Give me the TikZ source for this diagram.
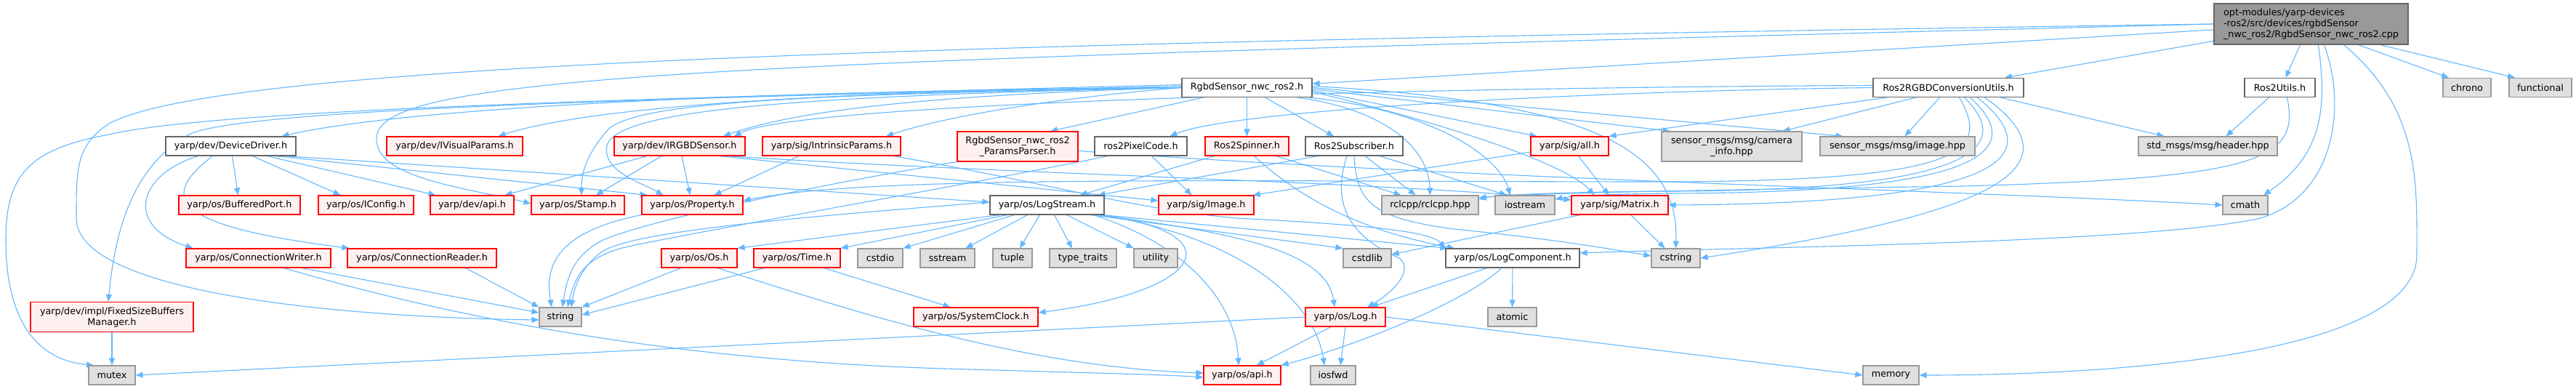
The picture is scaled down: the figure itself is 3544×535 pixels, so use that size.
\documentclass[tikz,border=0pt]{standalone}
\usepackage{fontspec}
\newfontfamily\dv{DejaVu Sans}
\usetikzlibrary{arrows.meta,backgrounds}
\definecolor{edgec}{HTML}{63B8FF}
\definecolor{redb}{HTML}{FF0000}
\definecolor{redf}{HTML}{FFF0F0}
\definecolor{grayb}{HTML}{999999}
\definecolor{grayf}{HTML}{E0E0E0}
\definecolor{whiteb}{HTML}{666666}
\definecolor{topf}{HTML}{999999}
\tikzset{
  e/.style={draw=edgec, line width=1.1pt, -{Triangle[length=10pt,width=8pt]}},
  nd/.style={draw, line width=1.2pt, font=\dv\fontsize{12.8pt}{15pt}\selectfont, inner sep=0pt, minimum height=26pt, anchor=center, align=center},
  rn/.style={nd, draw=redb, fill=redf},
  gn/.style={nd, draw=grayb, fill=grayf},
  wn/.style={nd, draw=whiteb, fill=white},
  topn/.style={nd, draw=whiteb, fill=topf, align=left},
}
\begin{document}
\begin{tikzpicture}[x=1pt,y=-1pt]
\useasboundingbox (0,0) rectangle (3544,535);
% row 0
\node[topn, minimum width=267pt, minimum height=56pt] (T) at (3179.5,33) {opt-modules/yarp-devices\\-ros2/src/devices/rgbdSensor\\\_nwc\_ros2/RgbdSensor\_nwc\_ros2.cpp};
% row 1
\node[wn, minimum width=179pt] (R) at (1715.5,120.5) {RgbdSensor\_nwc\_ros2.h};
\node[wn, minimum width=207pt] (C) at (2680.5,120.5) {Ros2RGBDConversionUtils.h};
\node[wn, minimum width=97pt] (U) at (3136.5,120.5) {Ros2Utils.h};
\node[gn, minimum width=66pt] (chrono) at (3394,120.5) {chrono};
\node[gn, minimum width=86pt] (functional) at (3495,120.5) {functional};
% row 2
\node[wn, minimum width=179pt] (dd) at (317.5,201) {yarp/dev/DeviceDriver.h};
\node[rn, minimum width=187pt] (ivp) at (625.5,201) {yarp/dev/IVisualParams.h};
\node[rn, minimum width=180pt] (irgbd) at (935,201) {yarp/dev/IRGBDSensor.h};
\node[rn, minimum width=190pt] (intr) at (1144,201) {yarp/sig/IntrinsicParams.h};
\node[rn, minimum width=166pt, minimum height=41pt] (pp) at (1400,201.5) {RgbdSensor\_nwc\_ros2\\\_ParamsParser.h};
\node[wn, minimum width=127pt] (pix) at (1569.5,201) {ros2PixelCode.h};
\node[rn, minimum width=115pt] (spin) at (1715.5,201) {Ros2Spinner.h};
\node[wn, minimum width=134pt] (sub) at (1863,201) {Ros2Subscriber.h};
\node[rn, minimum width=107pt] (all) at (2159.5,201) {yarp/sig/all.h};
\node[gn, minimum width=193pt, minimum height=41pt] (cam) at (2382.5,201.5) {sensor\_msgs/msg/camera\\\_info.hpp};
\node[gn, minimum width=213pt] (img) at (2610.5,201) {sensor\_msgs/msg/image.hpp};
\node[gn, minimum width=191pt] (hdr) at (3037.5,201) {std\_msgs/msg/header.hpp};
% row 3
\node[rn, minimum width=167pt] (bp) at (329.5,282) {yarp/os/BufferedPort.h};
\node[rn, minimum width=131pt] (icfg) at (503.5,282) {yarp/os/IConfig.h};
\node[rn, minimum width=115pt] (dapi) at (649.5,282) {yarp/dev/api.h};
\node[rn, minimum width=128pt] (stamp) at (795,282) {yarp/os/Stamp.h};
\node[rn, minimum width=139pt] (prop) at (952.5,282) {yarp/os/Property.h};
\node[wn, minimum width=157pt] (ls) at (1440.5,282) {yarp/os/LogStream.h};
\node[rn, minimum width=131pt] (simg) at (1659.5,282) {yarp/sig/Image.h};
\node[gn, minimum width=133pt] (rcl) at (1967.5,282) {rclcpp/rclcpp.hpp};
\node[gn, minimum width=82pt] (ios) at (2098,282) {iostream};
\node[rn, minimum width=133pt] (mat) at (2228.5,282) {yarp/sig/Matrix.h};
\node[gn, minimum width=62pt] (cmath) at (3089,282) {cmath};
% row 4
\node[rn, minimum width=199pt] (cw) at (355.5,355) {yarp/os/ConnectionWriter.h};
\node[rn, minimum width=205pt] (cr) at (580.5,355) {yarp/os/ConnectionReader.h};
\node[rn, minimum width=104pt] (os) at (962,355) {yarp/os/Os.h};
\node[rn, minimum width=119pt] (time) at (1096.5,355) {yarp/os/Time.h};
\node[gn, minimum width=62pt] (cstdio) at (1211,355) {cstdio};
\node[gn, minimum width=75pt] (sstream) at (1303.5,355) {sstream};
\node[gn, minimum width=54pt] (tuple) at (1393,355) {tuple};
\node[gn, minimum width=92pt] (tt) at (1490,355) {type\_traits};
\node[gn, minimum width=60pt] (util) at (1590,355) {utility};
\node[gn, minimum width=66pt] (cstdlib) at (1881,355) {cstdlib};
\node[wn, minimum width=184pt] (lc) at (2081,355) {yarp/os/LogComponent.h};
\node[gn, minimum width=67pt] (cstr) at (2305.5,355) {cstring};
% row 5
\node[rn, minimum width=224pt, minimum height=41pt] (fsb) at (154,436) {yarp/dev/impl/FixedSizeBuffers\\Manager.h};
\node[gn, minimum width=58pt] (str) at (771,436) {string};
\node[rn, minimum width=171pt] (sc) at (1342.5,436) {yarp/os/SystemClock.h};
\node[rn, minimum width=110pt] (log) at (1851,436) {yarp/os/Log.h};
\node[gn, minimum width=67pt] (atomic) at (2080.5,436) {atomic};
% row 6
\node[gn, minimum width=64pt] (mutex) at (154,516) {mutex};
\node[rn, minimum width=106pt] (oapi) at (1709,516) {yarp/os/api.h};
\node[gn, minimum width=62pt] (iosfwd) at (1834,516) {iosfwd};
\node[gn, minimum width=77pt] (memory) at (2601.5,516) {memory};

\begin{scope}[on background layer]
\fill[white] (0,0) rectangle (3544,535);
% top node
\draw[e] (T.west) .. controls (1200,60) and (300,90) .. (150,170) .. controls (105,200) and (105,230) .. (105,300) .. controls (105,400) and (450,436) .. ([yshift=-4pt]str.west);
\draw[e] (T.west) .. controls (1000,85) and (520,100) .. (518,190) .. controls (516,245) and (640,258) .. ([yshift=2pt]stamp.west);
\draw[e] (T) -- (R);
\draw[e] (T) -- (C);
\draw[e] ([xshift=-15pt]T.south) -- ([xshift=8pt]U.north);
\draw[e] ([xshift=65pt]T.south) -- ([xshift=-25pt]chrono.north);
\draw[e] ([xshift=95pt]T.south) -- ([xshift=-35pt]functional.north);
\draw[e] ([xshift=10pt]T.south) .. controls (3200,140) and (3200,210) .. ([xshift=25pt]cmath.north);
\draw[e] ([xshift=18pt]T.south) .. controls (3230,150) and (3210,270) .. (3110,300) .. controls (2950,335) and (2400,340) .. ([yshift=7pt]lc.east);
\draw[e] ([xshift=45pt]T.south) .. controls (3330,150) and (3325,250) .. (3325,350) .. controls (3325,490) and (2900,516) .. (memory.east);
% RgbdSensor_nwc_ros2.h
\draw[e] (R.west) .. controls (1000,125) and (550,150) .. ([xshift=70pt]dd.north);
\draw[e] (R.west) .. controls (1100,125) and (800,150) .. ([xshift=60pt]ivp.north);
\draw[e] (R.west) .. controls (1300,130) and (1100,150) .. ([xshift=60pt]irgbd.north);
\draw[e] (R.west) .. controls (1450,135) and (1300,160) .. ([xshift=75pt]intr.north);
\draw[e] ([xshift=-60pt]R.south) -- ([xshift=45pt]pp.north);
\draw[e] (R) -- (spin);
\draw[e] ([xshift=25pt]R.south) -- ([xshift=-28pt]sub.north);
\draw[e] ([yshift=-4pt]R.east) -- ([xshift=-45pt]all.north);
\draw[e] ([yshift=-2pt]R.east) -- ([xshift=-85pt]cam.north);
\draw[e] (R.east) -- ([xshift=-75pt]img.north);
\draw[e] ([xshift=70pt]R.south) .. controls (1900,150) and (1965,200) .. (rcl.north);
\draw[e] ([xshift=85pt]R.south) .. controls (1960,150) and (2060,210) .. ([xshift=-20pt]ios.north);
\draw[e] ([yshift=-6pt]R.east) .. controls (1950,160) and (2150,220) .. ([xshift=-35pt]mat.north);
\draw[e] ([yshift=2pt]R.east) .. controls (2200,140) and (2310,210) .. (cstr.north);
\draw[e] ([yshift=4pt]R.west) .. controls (900,135) and (300,150) .. (150,185) .. controls (40,205) and (8,240) .. (8,330) .. controls (8,440) and (50,495) .. ([xshift=-25pt]mutex.north);
\draw[e] ([yshift=2pt]R.west) .. controls (900,135) and (330,150) .. (260,185) .. controls (190,225) and (160,300) .. ([xshift=-5pt]fsb.north);
\draw[e] (R.west) .. controls (1100,130) and (870,140) .. (835,180) .. controls (805,215) and (800,240) .. ([xshift=5pt]stamp.north);
\draw[e] (R.west) .. controls (1100,132) and (850,150) .. (835,200) .. controls (828,235) and (880,250) .. ([xshift=-40pt]prop.north);
% Ros2RGBDConversionUtils.h
\draw[e] (C.west) .. controls (2200,125) and (1700,150) .. ([xshift=40pt]pix.north);
\draw[e] ([yshift=3pt]C.west) .. controls (2000,120) and (1100,140) .. ([xshift=75pt]irgbd.north);
\draw[e] ([xshift=-85pt]C.south) -- (all.north east);
\draw[e] ([xshift=-45pt]C.south) -- ([xshift=70pt]cam.north);
\draw[e] ([xshift=-12pt]C.south) -- ([xshift=10pt]img.north);
\draw[e] ([xshift=72pt]C.south) -- ([xshift=-60pt]hdr.north);
\draw[e] ([xshift=15pt]C.south) .. controls (2740,210) and (2700,248) .. (2300,250) .. controls (1700,250) and (1200,240) .. ([yshift=6pt]prop.east);
\draw[e] ([xshift=22pt]C.south) .. controls (2790,220) and (2650,262) .. (2300,263) .. controls (2150,264) and (2060,268) .. ([yshift=8pt]rcl.east);
\draw[e] ([xshift=30pt]C.south) .. controls (2810,225) and (2660,265) .. (2300,266) .. controls (2200,267) and (2160,270) .. ([yshift=8pt]ios.east);
\draw[e] ([xshift=40pt]C.south) .. controls (2840,230) and (2700,280) .. (mat.east);
\draw[e] ([xshift=50pt]C.south) .. controls (2880,240) and (2700,300) .. (cstr.east);
% Ros2Utils.h
\draw[e] ([xshift=-15pt]U.south) -- ([xshift=25pt]hdr.north);
\draw[e] ([xshift=10pt]U.south) .. controls (3165,220) and (3110,245) .. (2700,256) .. controls (2300,262) and (2100,266) .. ([yshift=10pt]rcl.east);
% DeviceDriver.h
\draw[e] (dd) -- (bp);
\draw[e] ([xshift=30pt]dd.south) -- ([xshift=-35pt]icfg.north);
\draw[e] ([xshift=50pt]dd.south) -- ([xshift=-50pt]dapi.north);
\draw[e] ([xshift=62pt]dd.south) -- ([xshift=-62pt]prop.north);
\draw[e] ([xshift=75pt]dd.south) -- ([yshift=4pt]ls.west);
\draw[e] ([xshift=-45pt]dd.south) .. controls (190,240) and (170,310) .. ([xshift=-90pt]cw.north);
\draw[e] ([xshift=-25pt]dd.south) .. controls (220,270) and (230,310) .. ([xshift=-100pt]cr.north);
% IRGBDSensor.h
\draw[e] ([xshift=-45pt]irgbd.south) -- ([xshift=45pt]dapi.north);
\draw[e] ([xshift=-25pt]irgbd.south) -- ([xshift=25pt]stamp.north);
\draw[e] (irgbd) -- (prop);
\draw[e] ([xshift=55pt]irgbd.south) -- ([yshift=6pt]simg.west);
\draw[e] ([xshift=65pt]irgbd.south) .. controls (1400,240) and (1900,250) .. ([yshift=7pt]mat.west);
% IntrinsicParams.h
\draw[e] ([xshift=-45pt]intr.south) -- ([xshift=30pt]prop.north);
\draw[e] ([xshift=85pt]intr.south) .. controls (1460,255) and (1545,285) .. (1700,300) .. controls (1900,310) and (1970,320) .. (lc.north west);
% ParamsParser
\draw[e] (pp.south west) .. controls (1150,250) and (900,300) .. (830,330) .. controls (790,350) and (780,380) .. ([xshift=3pt]str.north);
\draw[e] ([yshift=-6pt]pp.east) .. controls (2000,245) and (2700,262) .. (cmath.west);
% ros2PixelCode.h
\draw[e] ([xshift=15pt]pix.south) -- ([xshift=-20pt]simg.north);
\draw[e] ([xshift=-45pt]pix.south) .. controls (1300,260) and (950,320) .. (860,340) .. controls (800,355) and (790,385) .. ([xshift=10pt]str.north);
% Ros2Spinner.h
\draw[e] ([xshift=-45pt]spin.south) -- ([xshift=45pt]ls.north);
\draw[e] ([xshift=10pt]spin.south) .. controls (1780,265) and (1860,315) .. ([xshift=-80pt]lc.north);
\draw[e] ([xshift=40pt]spin.south) -- ([xshift=-40pt]rcl.north);
% Ros2Subscriber.h
\draw[e] ([xshift=-50pt]sub.south) -- ([xshift=70pt]ls.north);
\draw[e] ([xshift=-10pt]sub.south) .. controls (1835,270) and (1845,320) .. (1925,355) .. controls (1945,370) and (1920,400) .. ([xshift=30pt]log.north);
\draw[e] (sub.south) .. controls (1866,280) and (1890,300) .. (2000,315) .. controls (2150,330) and (2230,345) .. ([yshift=3pt]cstr.west);
\draw[e] ([xshift=15pt]sub.south) -- ([xshift=-20pt]rcl.north);
\draw[e] ([xshift=35pt]sub.south) -- ([xshift=-25pt]ios.north);
% yarp/sig/all.h
\draw[e] ([yshift=-8pt]all.west) -- ([xshift=-2pt]simg.north east);
\draw[e] ([xshift=12pt]all.south) -- ([xshift=-15pt]mat.north);
% Matrix.h
\draw[e] ([xshift=-55pt]mat.south) -- ([yshift=5pt]cstdlib.east);
\draw[e] ([xshift=15pt]mat.south) -- ([xshift=-15pt]cstr.north);
% LogStream.h
\draw[e] ([xshift=-65pt]ls.south) -- (os.north east);
\draw[e] ([xshift=-55pt]ls.south) -- (time.north east);
\draw[e] ([xshift=-45pt]ls.south) -- (cstdio.north east);
\draw[e] ([xshift=-27pt]ls.south) -- ([xshift=25pt]sstream.north);
\draw[e] ([xshift=-10pt]ls.south) -- ([xshift=10pt]tuple.north);
\draw[e] ([xshift=10pt]ls.south) -- ([xshift=-15pt]tt.north);
\draw[e] ([xshift=27pt]ls.south) -- (util.north west);
\draw[e] ([yshift=4pt]ls.west) .. controls (1150,295) and (880,315) .. (830,345) .. controls (800,365) and (790,395) .. ([xshift=15pt]str.north);
\draw[e] ([xshift=72pt]ls.south) .. controls (1700,320) and (1660,400) .. ([yshift=6pt]sc.east);
\draw[e] ([xshift=60pt]ls.south) -- (cstdlib.north west);
\draw[e] ([xshift=-3pt]ls.south east) -- ([xshift=3pt]lc.north west);
\draw[e] ([xshift=70pt]ls.south) .. controls (1700,320) and (1825,345) .. ([xshift=-15pt]log.north);
\draw[e] ([xshift=64pt]ls.south) .. controls (1640,340) and (1700,420) .. ([xshift=-5pt]oapi.north);
\draw[e] ([xshift=76pt]ls.south) .. controls (1720,330) and (1810,420) .. ([xshift=-12pt]iosfwd.north);
% Os.h, Time.h
\draw[e] ([xshift=-25pt]os.south) -- (str.north east);
\draw[e] ([xshift=25pt]os.south) .. controls (1150,420) and (1400,505) .. ([yshift=3pt]oapi.west);
\draw[e] ([xshift=-45pt]time.south) -- ([yshift=3pt]str.east);
\draw[e] ([xshift=37pt]time.south) -- ([xshift=-35pt]sc.north);
% Connection*
\draw[e] ([xshift=60pt]cw.south) -- ([yshift=6pt]str.west);
\draw[e] ([xshift=35pt]cw.south) .. controls (600,430) and (900,495) .. (1300,507) .. controls (1500,513) and (1600,515) .. ([yshift=-3pt]oapi.west);
\draw[e] ([xshift=60pt]cr.south) -- (str.north west);
% Property.h
\draw[e] (prop.south west) .. controls (760,320) and (750,370) .. ([xshift=-12pt]str.north);
% LogComponent.h
\draw[e] ([xshift=-35pt]lc.south) -- ([xshift=35pt]log.north);
\draw[e] ([xshift=-15pt]lc.south) .. controls (2010,420) and (1850,480) .. (oapi.north east);
\draw[e] (lc) -- (atomic);
% Log.h
\draw[e] ([xshift=-20pt]log.south) -- ([xshift=20pt]oapi.north);
\draw[e] (log.south) -- ([xshift=10pt]iosfwd.north);
\draw[e] (log.west) -- (mutex.east);
\draw[e] (log.east) -- (memory.west);
% FixedSizeBuffersManager.h
\draw[e] (fsb) -- (mutex);
\end{scope}
\end{tikzpicture}
\end{document}
